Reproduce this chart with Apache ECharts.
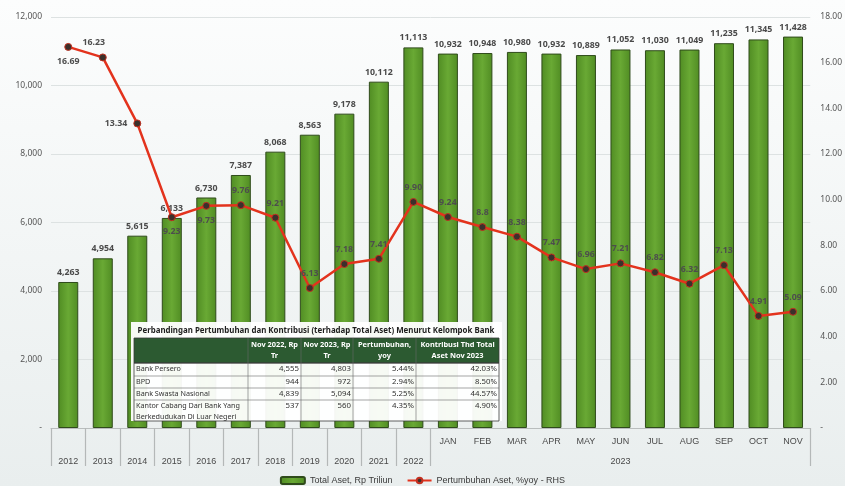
<!DOCTYPE html>
<html>
<head>
<meta charset="utf-8">
<script src="https://cdn.jsdelivr.net/npm/echarts@6/dist/echarts.min.js"></script>
<style>
  html, body { margin: 0; padding: 0; background: #fff; }
  #chart { width: 845px; height: 486px; }
</style>
</head>
<body>
<div id="chart"></div>
<script>
// categories
const years = ['2012', '2013', '2014', '2015', '2016', '2017', '2018', '2019', '2020', '2021', '2022'];
const months2023 = ['JAN', 'FEB', 'MAR', 'APR', 'MAY', 'JUN', 'JUL', 'AUG', 'SEP', 'OCT', 'NOV'];
const categories = years.concat(months2023);

// Total aset, Rp triliun
const totalAset = [4263, 4954, 5615, 6133, 6730, 7387, 8068, 8563, 9178, 10112, 11113,
  10932, 10948, 10980, 10932, 10889, 11052, 11030, 11049, 11235, 11345, 11428];
// Pertumbuhan aset, %yoy (kept as written on the chart)
const pertumbuhan = ['16.69', '16.23', '13.34', '9.23', '9.73', '9.76', '9.21', '6.13', '7.18', '7.41', '9.90',
  '9.24', '8.8', '8.38', '7.47', '6.96', '7.21', '6.82', '6.32', '7.13', '4.91', '5.09'];

// tabel kelompok bank
const tableTitle = 'Perbandingan Pertumbuhan dan Kontribusi (terhadap Total Aset) Menurut Kelompok Bank';
const tableHeaders = ['', 'Nov 2022, Rp\nTr', 'Nov 2023, Rp\nTr', 'Pertumbuhan,\nyoy', 'Kontribusi Thd Total\nAset Nov 2023'];
const bankGroups = ['Bank Persero', 'BPD', 'Bank Swasta Nasional', 'Kantor Cabang Dari Bank Yang\nBerkedudukan Di Luar Negeri'];
const nov2022 = ['4,555', '944', '4,839', '537'];
const nov2023 = ['4,803', '972', '5,094', '560'];
const growthYoy = ['5.44%', '2.94%', '5.25%', '4.35%'];
const contribution = ['42.03%', '8.50%', '44.57%', '4.90%'];

const narrow = "'Liberation Sans Narrow', 'Liberation Sans', sans-serif";
const sans = "'Noto Sans', 'DejaVu Sans', sans-serif";

// posisi label garis (atas kecuali beberapa titik)
const labelPos = { 0: 'bottom', 2: 'left', 3: 'bottom', 4: 'bottom' };

const lineData = pertumbuhan.map((v, i) => {
  const item = { value: v };
  if (labelPos[i]) item.label = { position: labelPos[i] };
  if (i === 1) item.label = { position: 'top', offset: [-9, 0] };
  return item;
});

// table graphic
function buildTable() {
  const colX = [134, 248, 301, 353, 416, 499];
  const headTop = 338, headBottom = 363;
  const rowY = [363, 376, 388, 400, 421];
  const els = [];
  els.push({ type: 'rect', shape: { x: 131, y: 322, width: 371, height: 99 },
    style: { fill: 'rgba(255,255,255,0.95)' } });
  els.push({ type: 'text', x: 316, y: 331,
    style: { text: tableTitle, font: 'bold 7.9px ' + sans, fill: '#1e1e1e', align: 'center', verticalAlign: 'middle' } });
  els.push({ type: 'rect', shape: { x: colX[0], y: headTop, width: colX[5] - colX[0], height: headBottom - headTop },
    style: { fill: '#2c5a31', stroke: '#3b3b3b', lineWidth: 0.8 } });
  for (let c = 1; c < 5; c++) {
    els.push({ type: 'text', x: (colX[c] + colX[c + 1]) / 2, y: (headTop + headBottom) / 2,
      style: { text: tableHeaders[c], font: 'bold 7.4px ' + sans, fill: '#ffffff', align: 'center',
        verticalAlign: 'middle', lineHeight: 11 } });
  }
  // body borders
  els.push({ type: 'rect', shape: { x: colX[0], y: rowY[0], width: colX[5] - colX[0], height: rowY[4] - rowY[0] },
    style: { fill: 'none', stroke: '#3b3b3b', lineWidth: 0.8 } });
  for (let r = 1; r < 4; r++) {
    els.push({ type: 'line', shape: { x1: colX[0], y1: rowY[r], x2: colX[5], y2: rowY[r] },
      style: { stroke: '#6a6a6a', lineWidth: 0.6 } });
  }
  for (let c = 1; c < 5; c++) {
    els.push({ type: 'line', shape: { x1: colX[c], y1: headTop, x2: colX[c], y2: rowY[4] },
      style: { stroke: '#6a6a6a', lineWidth: 0.6 } });
  }
  const cols = [nov2022, nov2023, growthYoy, contribution];
  bankGroups.forEach((name, r) => {
    const yTop = rowY[r] + 1;
    els.push({ type: 'text', x: colX[0] + 2, y: yTop,
      style: { text: name, font: '7.2px ' + sans, fill: '#333', align: 'left', verticalAlign: 'top', lineHeight: 10.5 } });
    cols.forEach((col, c) => {
      els.push({ type: 'text', x: colX[c + 2] - 2, y: yTop,
        style: { text: col[r], font: '7.8px ' + sans, fill: '#333', align: 'right', verticalAlign: 'top', lineHeight: 10.5 } });
    });
  });
  els.forEach((e) => { e.z = 100; });
  return els;
}

const chart = echarts.init(document.getElementById('chart'));

const option = {
  backgroundColor: {
    type: 'linear', x: 0, y: 0, x2: 0, y2: 1,
    colorStops: [{ offset: 0, color: '#fcfdfd' }, { offset: 1, color: '#e9eeee' }]
  },
  animation: false,
  grid: { left: 51, right: 28, top: 17, bottom: 58 },
  legend: {
    bottom: -4,
    itemGap: 14,
    itemWidth: 24,
    itemHeight: 7,
    textStyle: { fontFamily: narrow, fontSize: 9, color: '#3a3a3a' },
    data: ['Total Aset, Rp Triliun', 'Pertumbuhan Aset, %yoy - RHS']
  },
  xAxis: [
    {
      type: 'category',
      data: categories,
      axisLine: { lineStyle: { color: '#b9bdbd', width: 1 } },
      axisTick: {
        show: true,
        length: 38,
        interval: (i) => i <= years.length,
        lineStyle: { color: '#b4b8b8', width: 1.2 }
      },
      axisLabel: {
        interval: 0, margin: 9,
        fontFamily: narrow, fontSize: 9, color: '#4a4a4a',
        formatter: (v, i) => (i < years.length ? '' : v)
      }
    },
    {
      type: 'category',
      data: categories,
      position: 'bottom',
      axisLine: { show: false },
      axisTick: { show: false },
      axisLabel: {
        interval: 0, margin: 29,
        fontFamily: narrow, fontSize: 9, color: '#4a4a4a',
        formatter: (v, i) => (i < years.length ? v : (i === years.length + 5 ? '2023' : ''))
      }
    }
  ],
  yAxis: [
    {
      type: 'value', min: 0, max: 12000, interval: 2000,
      axisLine: { show: false }, axisTick: { show: false },
      axisLabel: {
        margin: 9, fontFamily: sans, fontSize: 8.5, color: '#555',
        formatter: (v) => (v === 0 ? '-' : v.toLocaleString('en-US'))
      },
      splitLine: { lineStyle: { color: '#dde2e2', width: 1 } }
    },
    {
      type: 'value', min: 0, max: 18, interval: 2,
      axisLine: { show: false }, axisTick: { show: false },
      axisLabel: {
        margin: 10, fontFamily: sans, fontSize: 8.5, color: '#555',
        formatter: (v) => (v === 0 ? '-' : v.toFixed(2))
      },
      splitLine: { show: false }
    }
  ],
  series: [
    {
      name: 'Total Aset, Rp Triliun',
      type: 'bar',
      data: totalAset,
      barWidth: 20,
      itemStyle: {
        color: {
          type: 'linear', x: 0, y: 0, x2: 1, y2: 0,
          colorStops: [
            { offset: 0, color: '#508c23' },
            { offset: 0.5, color: '#69a934' },
            { offset: 1, color: '#508c23' }
          ]
        },
        borderColor: '#2f4b1b',
        borderWidth: 1
      },
      label: {
        show: true, position: 'top', distance: 5,
        fontFamily: sans, fontWeight: 'bold', fontSize: 8.8, color: '#4a4a4a',
        formatter: (p) => p.value.toLocaleString('en-US')
      }
    },
    {
      name: 'Pertumbuhan Aset, %yoy - RHS',
      type: 'line',
      yAxisIndex: 1,
      data: lineData,
      symbol: 'circle',
      symbolSize: 7,
      lineStyle: { color: '#e3331d', width: 2.5 },
      itemStyle: { color: '#3b302b', borderColor: '#c23020', borderWidth: 1 },
      label: {
        show: true, position: 'top', distance: 6,
        fontFamily: sans, fontWeight: 'bold', fontSize: 8.8, color: '#4d4d4d',
        formatter: (p) => String(p.data.value)
      },
      z: 3
    }
  ],
  graphic: buildTable()
};

chart.setOption(option);
</script>
</body>
</html>
